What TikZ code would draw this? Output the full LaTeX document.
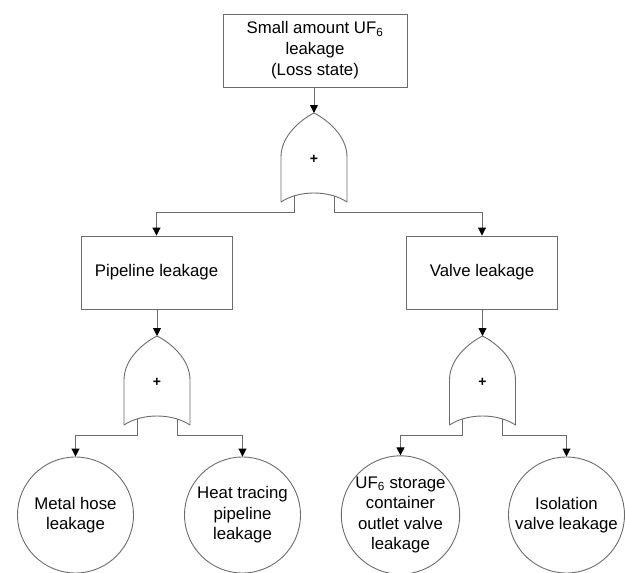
\documentclass[tikz,border=0pt]{standalone}
\usepackage{fontspec}
\setmainfont{Liberation Sans}
\usetikzlibrary{arrows.meta}

\tikzset{
  edgecol/.style={draw=black!58, line width=0.9pt},
  event/.style={edgecol, rectangle, minimum width=151pt, minimum height=73pt,
    align=center, inner sep=2pt, font=\fontsize{16.8}{21}\selectfont},
  topevent/.style={event, minimum width=184pt},
  basic/.style={edgecol, circle, minimum size=116pt, inner sep=0pt,
    align=center, font=\fontsize{16.8}{20.5}\selectfont},
  arr/.style={edgecol, -{Triangle[width=8pt,length=8pt,color=black]}},
  pics/orgate/.style={code={
    \draw[edgecol, line join=round]
      (0,0) .. controls (12,6) and (33,22) .. (33,44)
      -- (33,89) .. controls (15,77) and (-15,77) .. (-33,89)
      -- (-33,44) .. controls (-33,22) and (-12,6) .. (0,0) -- cycle;
    \node[font=\fontsize{14}{14}\selectfont\bfseries] at (0,46) {+};
    \coordinate (-top) at (0,0);
    \coordinate (-l) at (-20,83.2);
    \coordinate (-r) at (20,83.2);
    \coordinate (-lb) at (-20,99);
    \coordinate (-rb) at (20,99);
  }}
}

\begin{document}
\begin{tikzpicture}[x=1pt,y=-1pt]
  \useasboundingbox (0,0) rectangle (625,573);

  % top event
  \node[topevent] (top) at (315,50.5) {Small amount UF\textsubscript{6}\\leakage\\(Loss state)};

  % intermediate events
  \node[event] (pipe) at (156.5,272.5) {Pipeline leakage};
  \node[event] (valve) at (482,272.5) {Valve leakage};

  % basic events
  \node[basic] (hose) at (75.5,515) {Metal hose\\leakage};
  \node[basic] (heat) at (242.5,515) {Heat tracing\\pipeline\\leakage};
  \node[basic] (outlet) at (400.5,515) {UF\textsubscript{6} storage\\container\\outlet valve\\leakage};
  \node[basic] (iso) at (566.5,515) {Isolation\\valve leakage};

  % OR gates
  \pic (g0) at (314,113) {orgate};
  \pic (g1) at (157,336) {orgate};
  \pic (g2) at (482.5,336) {orgate};

  % connectors
  \draw[arr] (top.south -| g0-top) -- (g0-top);
  \draw[arr] (g0-l) -- (g0-lb) -| (pipe.north);
  \draw[arr] (g0-r) -- (g0-rb) -| (valve.north);

  \draw[arr] (pipe.south -| g1-top) -- (g1-top);
  \draw[arr] (g1-l) -- (g1-lb) -| (hose.north);
  \draw[arr] (g1-r) -- (g1-rb) -| (heat.north);

  \draw[arr] (valve.south -| g2-top) -- (g2-top);
  \draw[arr] (g2-l) -- (g2-lb) -| (outlet.north);
  \draw[arr] (g2-r) -- (g2-rb) -| (iso.north);
\end{tikzpicture}
\end{document}
